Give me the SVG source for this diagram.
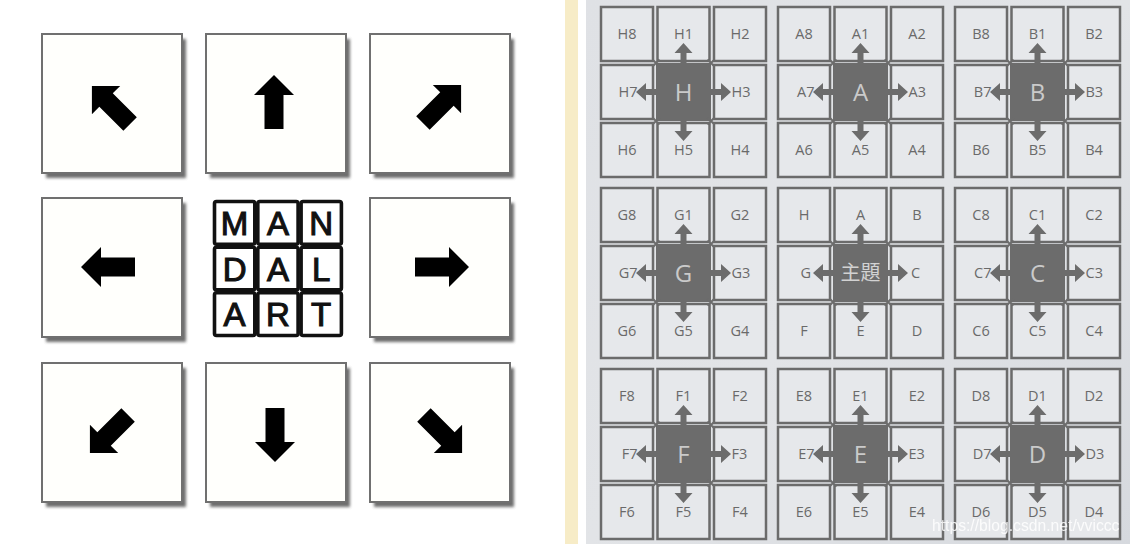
<svg xmlns="http://www.w3.org/2000/svg" xmlns:xlink="http://www.w3.org/1999/xlink" width="1130" height="544" viewBox="0 0 1130 544">
<defs>
<style>
.bx{fill:#fffffc;stroke:#707070;stroke-width:2}
.sd{fill:#555;opacity:.85}
.ar{fill:#000}
.mc{fill:#fff;stroke:#111;stroke-width:3.6}
.ml{font-family:"Liberation Sans",Arial,sans-serif;font-size:33px;fill:#111;stroke:#111;stroke-width:1.1;text-anchor:middle}
.c{fill:#e6e8eb;stroke:#6b6b6b;stroke-width:2.5}
.t{font-family:"Open Sans","DejaVu Sans",sans-serif;font-size:14.5px;fill:#6a6a6a;text-anchor:middle}
.te{text-anchor:end}
.ts{text-anchor:start}
.dk{fill:#6c6c6c}
.big{font-family:"Open Sans","DejaVu Sans",sans-serif;font-size:24px;fill:#cacaca;text-anchor:middle}
.zh{font-family:"Noto Sans CJK SC","Noto Sans CJK JP",sans-serif;font-size:20px;fill:#d2d2d2;text-anchor:middle}
.ra{fill:#6c6c6c}
.cm{fill:none;stroke:#6c6c6c;stroke-width:2}
.wm{font-family:"Liberation Sans",Arial,sans-serif;font-size:15.7px;fill:#fff;opacity:.85}
</style>
<filter id="blur" x="-10%" y="-10%" width="130%" height="130%"><feGaussianBlur stdDeviation="1.5"/></filter>
<path id="la" d="M0,-27 L20,-7 L9.5,-7 L9.5,27 L-9.5,27 L-9.5,-7 L-20,-7 Z"/>
<path id="ra" d="M0,-3 H10 V-9 L20,0 L10,9 V3 H0 Z"/>
<path id="cm" d="M-3.5,-3.5L3.5,3.5M3.5,-3.5L-3.5,3.5"/>
<linearGradient id="bg" x1="0" y1="0" x2="1" y2="1">
<stop offset="0" stop-color="#dfe1e5"/>
<stop offset="0.5" stop-color="#e2e4e7"/>
<stop offset="1" stop-color="#d6d9de"/>
</linearGradient>
</defs>

<rect x="0" y="0" width="1130" height="544" fill="#ffffff"/>
<rect x="565" y="0" width="13" height="544" fill="#f7ecc7"/>
<rect x="586" y="0" width="544" height="544" fill="url(#bg)"/>

<!-- Left panel -->
<g id="box-nw"><rect class="sd" x="46" y="39" width="140" height="139" filter="url(#blur)"/><rect class="bx" x="42" y="34" width="140" height="139"/><use class="ar" href="#la" transform="translate(111,105) rotate(-45)"/></g>
<g id="box-n"><rect class="sd" x="210" y="39" width="140" height="139" filter="url(#blur)"/><rect class="bx" x="206" y="34" width="140" height="139"/><use class="ar" href="#la" transform="translate(274,102)"/></g>
<g id="box-ne"><rect class="sd" x="374" y="39" width="140" height="139" filter="url(#blur)"/><rect class="bx" x="370" y="34" width="140" height="139"/><use class="ar" href="#la" transform="translate(442,104) rotate(45)"/></g>
<g id="box-w"><rect class="sd" x="46" y="203" width="140" height="139" filter="url(#blur)"/><rect class="bx" x="42" y="198" width="140" height="139"/><use class="ar" href="#la" transform="translate(108,267) rotate(-90)"/></g>
<g id="box-e"><rect class="sd" x="374" y="203" width="140" height="139" filter="url(#blur)"/><rect class="bx" x="370" y="198" width="140" height="139"/><use class="ar" href="#la" transform="translate(442,267) rotate(90)"/></g>
<g id="box-sw"><rect class="sd" x="46" y="368" width="140" height="139" filter="url(#blur)"/><rect class="bx" x="42" y="363" width="140" height="139"/><use class="ar" href="#la" transform="translate(109,434) rotate(-135)"/></g>
<g id="box-s"><rect class="sd" x="210" y="368" width="140" height="139" filter="url(#blur)"/><rect class="bx" x="206" y="363" width="140" height="139"/><use class="ar" href="#la" transform="translate(275,435) rotate(180)"/></g>
<g id="box-se"><rect class="sd" x="374" y="368" width="140" height="139" filter="url(#blur)"/><rect class="bx" x="370" y="363" width="140" height="139"/><use class="ar" href="#la" transform="translate(443,434) rotate(135)"/></g>

<g id="mandalart">
<rect class="mc" x="214.5" y="201.5" width="40.3" height="42.7" rx="2"/>
<rect class="mc" x="257.8" y="201.5" width="40.3" height="42.7" rx="2"/>
<rect class="mc" x="301.1" y="201.5" width="40.3" height="42.7" rx="2"/>
<rect class="mc" x="214.5" y="247.2" width="40.3" height="42.7" rx="2"/>
<rect class="mc" x="257.8" y="247.2" width="40.3" height="42.7" rx="2"/>
<rect class="mc" x="301.1" y="247.2" width="40.3" height="42.7" rx="2"/>
<rect class="mc" x="214.5" y="292.8" width="40.3" height="42.7" rx="2"/>
<rect class="mc" x="257.8" y="292.8" width="40.3" height="42.7" rx="2"/>
<rect class="mc" x="301.1" y="292.8" width="40.3" height="42.7" rx="2"/>
<text class="ml" x="234.6" y="235">M</text>
<text class="ml" x="277.9" y="235">A</text>
<text class="ml" x="321.2" y="235">N</text>
<text class="ml" x="234.6" y="280.5">D</text>
<text class="ml" x="277.9" y="280.5">A</text>
<text class="ml" x="321.2" y="280.5">L</text>
<text class="ml" x="234.6" y="326.2">A</text>
<text class="ml" x="277.9" y="326.2">R</text>
<text class="ml" x="321.2" y="326.2">T</text>
</g>

<!-- Right panel -->
<g id="block-H">
<g id="H8"><rect class="c" x="601" y="7" width="52" height="54"/><text class="t" x="627" y="39">H8</text></g>
<g id="H1"><rect class="c" x="657.5" y="7" width="52" height="54"/><text class="t" x="683.5" y="39">H1</text></g>
<g id="H2"><rect class="c" x="714" y="7" width="52" height="54"/><text class="t" x="740" y="39">H2</text></g>
<g id="H7"><rect class="c" x="601" y="65" width="52" height="54"/><text class="t te" x="637.5" y="97">H7</text></g>
<g id="H3"><rect class="c" x="714" y="65" width="52" height="54"/><text class="t ts" x="731.5" y="97">H3</text></g>
<g id="H6"><rect class="c" x="601" y="123" width="52" height="54"/><text class="t" x="627" y="155">H6</text></g>
<g id="H5"><rect class="c" x="657.5" y="123" width="52" height="54"/><text class="t" x="683.5" y="155">H5</text></g>
<g id="H4"><rect class="c" x="714" y="123" width="52" height="54"/><text class="t" x="740" y="155">H4</text></g>
<g id="H"><rect class="dk" x="656" y="63" width="55" height="58"/><text class="big" x="683.5" y="100.5">H</text></g>
</g>

<g id="block-A">
<g id="A8"><rect class="c" x="778" y="7" width="52" height="54"/><text class="t" x="804" y="39">A8</text></g>
<g id="A1"><rect class="c" x="834.5" y="7" width="52" height="54"/><text class="t" x="860.5" y="39">A1</text></g>
<g id="A2"><rect class="c" x="891" y="7" width="52" height="54"/><text class="t" x="917" y="39">A2</text></g>
<g id="A7"><rect class="c" x="778" y="65" width="52" height="54"/><text class="t te" x="814.5" y="97">A7</text></g>
<g id="A3"><rect class="c" x="891" y="65" width="52" height="54"/><text class="t ts" x="908.5" y="97">A3</text></g>
<g id="A6"><rect class="c" x="778" y="123" width="52" height="54"/><text class="t" x="804" y="155">A6</text></g>
<g id="A5"><rect class="c" x="834.5" y="123" width="52" height="54"/><text class="t" x="860.5" y="155">A5</text></g>
<g id="A4"><rect class="c" x="891" y="123" width="52" height="54"/><text class="t" x="917" y="155">A4</text></g>
<g id="A"><rect class="dk" x="833" y="63" width="55" height="58"/><text class="big" x="860.5" y="100.5">A</text></g>
</g>

<g id="block-B">
<g id="B8"><rect class="c" x="955" y="7" width="52" height="54"/><text class="t" x="981" y="39">B8</text></g>
<g id="B1"><rect class="c" x="1011.5" y="7" width="52" height="54"/><text class="t" x="1037.5" y="39">B1</text></g>
<g id="B2"><rect class="c" x="1068" y="7" width="52" height="54"/><text class="t" x="1094" y="39">B2</text></g>
<g id="B7"><rect class="c" x="955" y="65" width="52" height="54"/><text class="t te" x="991.5" y="97">B7</text></g>
<g id="B3"><rect class="c" x="1068" y="65" width="52" height="54"/><text class="t ts" x="1085.5" y="97">B3</text></g>
<g id="B6"><rect class="c" x="955" y="123" width="52" height="54"/><text class="t" x="981" y="155">B6</text></g>
<g id="B5"><rect class="c" x="1011.5" y="123" width="52" height="54"/><text class="t" x="1037.5" y="155">B5</text></g>
<g id="B4"><rect class="c" x="1068" y="123" width="52" height="54"/><text class="t" x="1094" y="155">B4</text></g>
<g id="B"><rect class="dk" x="1010" y="63" width="55" height="58"/><text class="big" x="1037.5" y="100.5">B</text></g>
</g>

<g id="block-G">
<g id="G8"><rect class="c" x="601" y="188" width="52" height="54"/><text class="t" x="627" y="220">G8</text></g>
<g id="G1"><rect class="c" x="657.5" y="188" width="52" height="54"/><text class="t" x="683.5" y="220">G1</text></g>
<g id="G2"><rect class="c" x="714" y="188" width="52" height="54"/><text class="t" x="740" y="220">G2</text></g>
<g id="G7"><rect class="c" x="601" y="246" width="52" height="54"/><text class="t te" x="637.5" y="278">G7</text></g>
<g id="G3"><rect class="c" x="714" y="246" width="52" height="54"/><text class="t ts" x="731.5" y="278">G3</text></g>
<g id="G6"><rect class="c" x="601" y="304" width="52" height="54"/><text class="t" x="627" y="336">G6</text></g>
<g id="G5"><rect class="c" x="657.5" y="304" width="52" height="54"/><text class="t" x="683.5" y="336">G5</text></g>
<g id="G4"><rect class="c" x="714" y="304" width="52" height="54"/><text class="t" x="740" y="336">G4</text></g>
<g id="G"><rect class="dk" x="656" y="244" width="55" height="58"/><text class="big" x="683.5" y="281.5">G</text></g>
</g>

<g id="block-theme">
<g id="cH"><rect class="c" x="778" y="188" width="52" height="54"/><text class="t" x="804" y="220">H</text></g>
<g id="cA"><rect class="c" x="834.5" y="188" width="52" height="54"/><text class="t" x="860.5" y="220">A</text></g>
<g id="cB"><rect class="c" x="891" y="188" width="52" height="54"/><text class="t" x="917" y="220">B</text></g>
<g id="cG"><rect class="c" x="778" y="246" width="52" height="54"/><text class="t te" x="811" y="278">G</text></g>
<g id="cC"><rect class="c" x="891" y="246" width="52" height="54"/><text class="t ts" x="911" y="278">C</text></g>
<g id="cF"><rect class="c" x="778" y="304" width="52" height="54"/><text class="t" x="804" y="336">F</text></g>
<g id="cE"><rect class="c" x="834.5" y="304" width="52" height="54"/><text class="t" x="860.5" y="336">E</text></g>
<g id="cD"><rect class="c" x="891" y="304" width="52" height="54"/><text class="t" x="917" y="336">D</text></g>
<g id="theme"><rect class="dk" x="833" y="244" width="55" height="58"/><text class="zh" x="860.5" y="280">主題</text></g>
</g>

<g id="block-C">
<g id="C8"><rect class="c" x="955" y="188" width="52" height="54"/><text class="t" x="981" y="220">C8</text></g>
<g id="C1"><rect class="c" x="1011.5" y="188" width="52" height="54"/><text class="t" x="1037.5" y="220">C1</text></g>
<g id="C2"><rect class="c" x="1068" y="188" width="52" height="54"/><text class="t" x="1094" y="220">C2</text></g>
<g id="C7"><rect class="c" x="955" y="246" width="52" height="54"/><text class="t te" x="991.5" y="278">C7</text></g>
<g id="C3"><rect class="c" x="1068" y="246" width="52" height="54"/><text class="t ts" x="1085.5" y="278">C3</text></g>
<g id="C6"><rect class="c" x="955" y="304" width="52" height="54"/><text class="t" x="981" y="336">C6</text></g>
<g id="C5"><rect class="c" x="1011.5" y="304" width="52" height="54"/><text class="t" x="1037.5" y="336">C5</text></g>
<g id="C4"><rect class="c" x="1068" y="304" width="52" height="54"/><text class="t" x="1094" y="336">C4</text></g>
<g id="C"><rect class="dk" x="1010" y="244" width="55" height="58"/><text class="big" x="1037.5" y="281.5">C</text></g>
</g>

<g id="block-F">
<g id="F8"><rect class="c" x="601" y="369" width="52" height="54"/><text class="t" x="627" y="401">F8</text></g>
<g id="F1"><rect class="c" x="657.5" y="369" width="52" height="54"/><text class="t" x="683.5" y="401">F1</text></g>
<g id="F2"><rect class="c" x="714" y="369" width="52" height="54"/><text class="t" x="740" y="401">F2</text></g>
<g id="F7"><rect class="c" x="601" y="427" width="52" height="54"/><text class="t te" x="637.5" y="459">F7</text></g>
<g id="F3"><rect class="c" x="714" y="427" width="52" height="54"/><text class="t ts" x="731.5" y="459">F3</text></g>
<g id="F6"><rect class="c" x="601" y="485" width="52" height="54"/><text class="t" x="627" y="517">F6</text></g>
<g id="F5"><rect class="c" x="657.5" y="485" width="52" height="54"/><text class="t" x="683.5" y="517">F5</text></g>
<g id="F4"><rect class="c" x="714" y="485" width="52" height="54"/><text class="t" x="740" y="517">F4</text></g>
<g id="F"><rect class="dk" x="656" y="425" width="55" height="58"/><text class="big" x="683.5" y="462.5">F</text></g>
</g>

<g id="block-E">
<g id="E8"><rect class="c" x="778" y="369" width="52" height="54"/><text class="t" x="804" y="401">E8</text></g>
<g id="E1"><rect class="c" x="834.5" y="369" width="52" height="54"/><text class="t" x="860.5" y="401">E1</text></g>
<g id="E2"><rect class="c" x="891" y="369" width="52" height="54"/><text class="t" x="917" y="401">E2</text></g>
<g id="E7"><rect class="c" x="778" y="427" width="52" height="54"/><text class="t te" x="814.5" y="459">E7</text></g>
<g id="E3"><rect class="c" x="891" y="427" width="52" height="54"/><text class="t ts" x="908.5" y="459">E3</text></g>
<g id="E6"><rect class="c" x="778" y="485" width="52" height="54"/><text class="t" x="804" y="517">E6</text></g>
<g id="E5"><rect class="c" x="834.5" y="485" width="52" height="54"/><text class="t" x="860.5" y="517">E5</text></g>
<g id="E4"><rect class="c" x="891" y="485" width="52" height="54"/><text class="t" x="917" y="517">E4</text></g>
<g id="E"><rect class="dk" x="833" y="425" width="55" height="58"/><text class="big" x="860.5" y="462.5">E</text></g>
</g>

<g id="block-D">
<g id="D8"><rect class="c" x="955" y="369" width="52" height="54"/><text class="t" x="981" y="401">D8</text></g>
<g id="D1"><rect class="c" x="1011.5" y="369" width="52" height="54"/><text class="t" x="1037.5" y="401">D1</text></g>
<g id="D2"><rect class="c" x="1068" y="369" width="52" height="54"/><text class="t" x="1094" y="401">D2</text></g>
<g id="D7"><rect class="c" x="955" y="427" width="52" height="54"/><text class="t te" x="991.5" y="459">D7</text></g>
<g id="D3"><rect class="c" x="1068" y="427" width="52" height="54"/><text class="t ts" x="1085.5" y="459">D3</text></g>
<g id="D6"><rect class="c" x="955" y="485" width="52" height="54"/><text class="t" x="981" y="517">D6</text></g>
<g id="D5"><rect class="c" x="1011.5" y="485" width="52" height="54"/><text class="t" x="1037.5" y="517">D5</text></g>
<g id="D4"><rect class="c" x="1068" y="485" width="52" height="54"/><text class="t" x="1094" y="517">D4</text></g>
<g id="D"><rect class="dk" x="1010" y="425" width="55" height="58"/><text class="big" x="1037.5" y="462.5">D</text></g>
</g>

<!-- Connectors -->
<g id="connectors">
<g id="arrows-H">
<use class="ra" href="#ra" transform="translate(683.5,63) rotate(-90)"/>
<use class="ra" href="#ra" transform="translate(683.5,121) rotate(90)"/>
<use class="ra" href="#ra" transform="translate(656,92) rotate(180)"/>
<use class="ra" href="#ra" transform="translate(711,92)"/>
<use class="cm" href="#cm" transform="translate(656,63)"/><use class="cm" href="#cm" transform="translate(711,63)"/><use class="cm" href="#cm" transform="translate(656,121)"/><use class="cm" href="#cm" transform="translate(711,121)"/>
</g>
<g id="arrows-A">
<use class="ra" href="#ra" transform="translate(860.5,63) rotate(-90)"/>
<use class="ra" href="#ra" transform="translate(860.5,121) rotate(90)"/>
<use class="ra" href="#ra" transform="translate(833,92) rotate(180)"/>
<use class="ra" href="#ra" transform="translate(888,92)"/>
<use class="cm" href="#cm" transform="translate(833,63)"/><use class="cm" href="#cm" transform="translate(888,63)"/><use class="cm" href="#cm" transform="translate(833,121)"/><use class="cm" href="#cm" transform="translate(888,121)"/>
</g>
<g id="arrows-B">
<use class="ra" href="#ra" transform="translate(1037.5,63) rotate(-90)"/>
<use class="ra" href="#ra" transform="translate(1037.5,121) rotate(90)"/>
<use class="ra" href="#ra" transform="translate(1010,92) rotate(180)"/>
<use class="ra" href="#ra" transform="translate(1065,92)"/>
<use class="cm" href="#cm" transform="translate(1010,63)"/><use class="cm" href="#cm" transform="translate(1065,63)"/><use class="cm" href="#cm" transform="translate(1010,121)"/><use class="cm" href="#cm" transform="translate(1065,121)"/>
</g>
<g id="arrows-G">
<use class="ra" href="#ra" transform="translate(683.5,244) rotate(-90)"/>
<use class="ra" href="#ra" transform="translate(683.5,302) rotate(90)"/>
<use class="ra" href="#ra" transform="translate(656,273) rotate(180)"/>
<use class="ra" href="#ra" transform="translate(711,273)"/>
<use class="cm" href="#cm" transform="translate(656,244)"/><use class="cm" href="#cm" transform="translate(711,244)"/><use class="cm" href="#cm" transform="translate(656,302)"/><use class="cm" href="#cm" transform="translate(711,302)"/>
</g>
<g id="arrows-theme">
<use class="ra" href="#ra" transform="translate(860.5,244) rotate(-90)"/>
<use class="ra" href="#ra" transform="translate(860.5,302) rotate(90)"/>
<use class="ra" href="#ra" transform="translate(833,273) rotate(180)"/>
<use class="ra" href="#ra" transform="translate(888,273)"/>
<use class="cm" href="#cm" transform="translate(833,244)"/><use class="cm" href="#cm" transform="translate(888,244)"/><use class="cm" href="#cm" transform="translate(833,302)"/><use class="cm" href="#cm" transform="translate(888,302)"/>
</g>
<g id="arrows-C">
<use class="ra" href="#ra" transform="translate(1037.5,244) rotate(-90)"/>
<use class="ra" href="#ra" transform="translate(1037.5,302) rotate(90)"/>
<use class="ra" href="#ra" transform="translate(1010,273) rotate(180)"/>
<use class="ra" href="#ra" transform="translate(1065,273)"/>
<use class="cm" href="#cm" transform="translate(1010,244)"/><use class="cm" href="#cm" transform="translate(1065,244)"/><use class="cm" href="#cm" transform="translate(1010,302)"/><use class="cm" href="#cm" transform="translate(1065,302)"/>
</g>
<g id="arrows-F">
<use class="ra" href="#ra" transform="translate(683.5,425) rotate(-90)"/>
<use class="ra" href="#ra" transform="translate(683.5,483) rotate(90)"/>
<use class="ra" href="#ra" transform="translate(656,454) rotate(180)"/>
<use class="ra" href="#ra" transform="translate(711,454)"/>
<use class="cm" href="#cm" transform="translate(656,425)"/><use class="cm" href="#cm" transform="translate(711,425)"/><use class="cm" href="#cm" transform="translate(656,483)"/><use class="cm" href="#cm" transform="translate(711,483)"/>
</g>
<g id="arrows-E">
<use class="ra" href="#ra" transform="translate(860.5,425) rotate(-90)"/>
<use class="ra" href="#ra" transform="translate(860.5,483) rotate(90)"/>
<use class="ra" href="#ra" transform="translate(833,454) rotate(180)"/>
<use class="ra" href="#ra" transform="translate(888,454)"/>
<use class="cm" href="#cm" transform="translate(833,425)"/><use class="cm" href="#cm" transform="translate(888,425)"/><use class="cm" href="#cm" transform="translate(833,483)"/><use class="cm" href="#cm" transform="translate(888,483)"/>
</g>
<g id="arrows-D">
<use class="ra" href="#ra" transform="translate(1037.5,425) rotate(-90)"/>
<use class="ra" href="#ra" transform="translate(1037.5,483) rotate(90)"/>
<use class="ra" href="#ra" transform="translate(1010,454) rotate(180)"/>
<use class="ra" href="#ra" transform="translate(1065,454)"/>
<use class="cm" href="#cm" transform="translate(1010,425)"/><use class="cm" href="#cm" transform="translate(1065,425)"/><use class="cm" href="#cm" transform="translate(1010,483)"/><use class="cm" href="#cm" transform="translate(1065,483)"/>
</g>
</g>

<text class="wm" x="932" y="531">https://blog.csdn.net/vviccc</text>
</svg>
